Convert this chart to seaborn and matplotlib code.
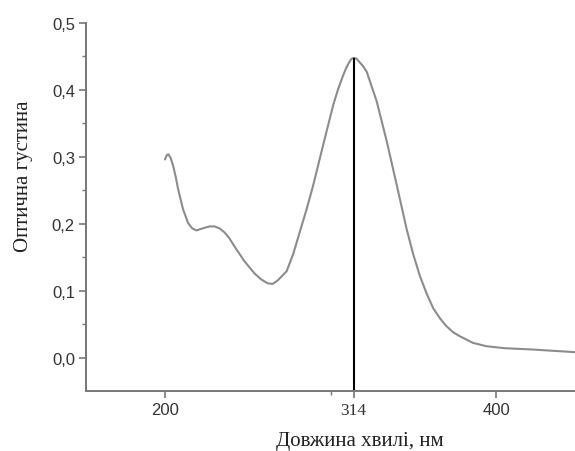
import matplotlib
matplotlib.use("Agg")
import matplotlib.pyplot as plt
import seaborn as sns
import pandas as pd
from matplotlib.ticker import FuncFormatter, FixedLocator

wavelength = [200, 201, 202, 203.5, 205, 206.5, 208, 211, 214, 216.5, 219, 224,
              227, 230, 233, 236, 239, 242, 248, 254,
              258, 262, 265, 268, 273.5, 277.5, 281.6, 285.6, 289.6, 295.6, 301.7,
              304.7, 307.7, 309.5, 311, 312.5, 314, 315.5, 317, 319.5, 321.9,
              327.9, 334, 340, 346,
              350, 354, 358, 362, 366, 370, 374, 378, 386, 394, 405, 422, 435, 448]
absorbance = [0.296, 0.302, 0.304, 0.298, 0.286, 0.270, 0.251, 0.221, 0.201,
              0.193, 0.190, 0.194, 0.196, 0.196, 0.193, 0.187, 0.178, 0.166,
              0.144, 0.126, 0.117, 0.111, 0.110, 0.115, 0.129,
              0.155, 0.189, 0.222, 0.258, 0.318, 0.378, 0.402, 0.422, 0.433,
              0.440, 0.446, 0.448, 0.447, 0.443, 0.436, 0.427,
              0.383, 0.323, 0.258, 0.192, 0.154,
              0.122, 0.096, 0.074, 0.059, 0.047, 0.038, 0.032, 0.022, 0.017,
              0.014, 0.012, 0.010, 0.008]
peak_wavelength = 314
peak_absorbance = 0.448
x_ticks = [200, 314, 400]
y_ticks = [0.0, 0.1, 0.2, 0.3, 0.4, 0.5]

df = pd.DataFrame({"wl": wavelength, "a": absorbance})

sns.set_theme(style="ticks")
plt.rcParams["font.family"] = ["Liberation Sans", "DejaVu Sans"]

fig = plt.figure(figsize=(5.75, 4.52), dpi=100)
ax = fig.add_axes([86 / 575, 60 / 452, 489 / 575, 368 / 452])

sns.lineplot(data=df, x="wl", y="a", ax=ax, color="#8c8c8c", linewidth=1.5)
ax.vlines(peak_wavelength, -0.05, peak_absorbance, color="black", linewidth=1.5)

ax.set_xlim(152.3, 447.7)
ax.set_ylim(-0.05, 0.5)

ax.set_xticks(x_ticks)
ax.xaxis.set_minor_locator(FixedLocator([300]))
ax.set_yticks(y_ticks)
ax.yaxis.set_minor_locator(FixedLocator([0.05, 0.15, 0.25, 0.35, 0.45]))
ax.yaxis.set_major_formatter(FuncFormatter(lambda v, p: f"{v:.1f}".replace(".", ",")))

for s in ["top", "right"]:
    ax.spines[s].set_visible(False)
for s in ["left", "bottom"]:
    ax.spines[s].set_color("#777777")
    ax.spines[s].set_linewidth(1.4)

ax.tick_params(axis="both", which="major", direction="out", length=5, width=1.2,
               color="#777777", labelsize=12, labelcolor="#333333", pad=3)
ax.tick_params(axis="both", which="minor", direction="out", length=3, width=1.0,
               color="#777777")

for lbl in ax.get_xticklabels():
    if lbl.get_text() == "314":
        lbl.set_family(["Liberation Serif"])
        lbl.set_fontsize(12.5)

ax.set_xlabel("Довжина хвилі, нм", family=["Liberation Serif"], fontsize=15,
              color="#222222")
ax.set_ylabel("Оптична густина", family=["Liberation Serif"], fontsize=15,
              color="#222222")
ax.xaxis.set_label_coords(0.560, -0.108)
ax.yaxis.set_label_coords(-0.108, 0.587)

fig.savefig("out.png", dpi=100, facecolor="white")
